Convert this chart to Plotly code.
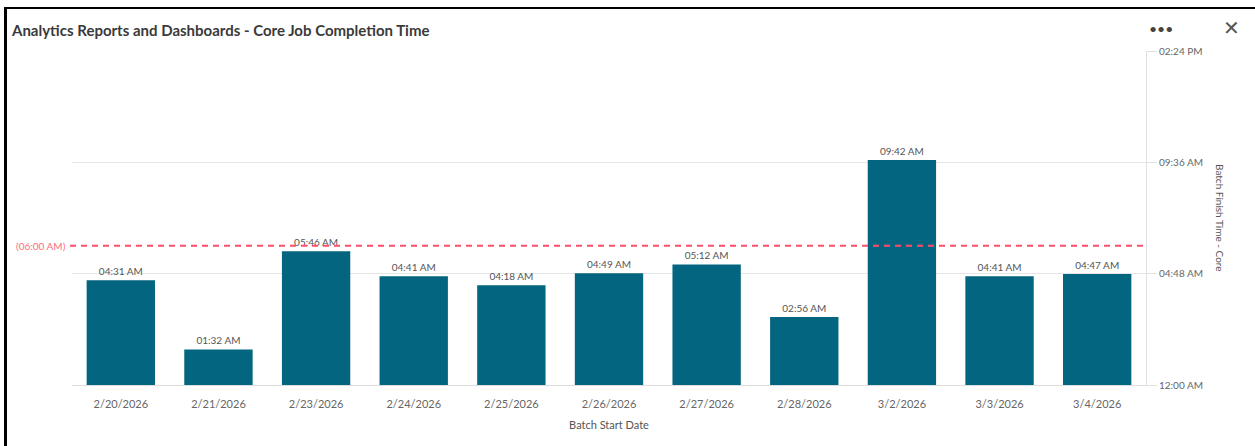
import plotly.graph_objects as go

# ---- data ----
dates = ["2/20/2026", "2/21/2026", "2/23/2026", "2/24/2026", "2/25/2026", "2/26/2026",
         "2/27/2026", "2/28/2026", "3/2/2026", "3/3/2026", "3/4/2026"]
finish_labels = ["04:31 AM", "01:32 AM", "05:46 AM", "04:41 AM", "04:18 AM", "04:49 AM",
                 "05:12 AM", "02:56 AM", "09:42 AM", "04:41 AM", "04:47 AM"]
# minutes after midnight
finish_minutes = [271, 92, 346, 281, 258, 289, 312, 176, 582, 281, 287]
target_minutes = 360
target_label = "(06:00 AM)"
y_tickvals = [0, 288, 576, 864]
y_ticktext = ["12:00 AM", "04:48 AM", "09:36 AM", "02:24 PM"]

title = "Analytics Reports and Dashboards - Core Job Completion Time"
x_title = "Batch Start Date"
y_title = "Batch Finish Time - Core"

# ---- layout geometry (pixels) ----
W, H = 1255, 446
L, R, T, B = 72, 1146, 51, 385
FONT = "Lato"


def px(x):
    return (x - L) / (R - L)


def py(y):
    return (B - y) / (B - T)


fig = go.Figure()
fig.add_trace(go.Bar(
    x=dates, y=finish_minutes, text=finish_labels, textposition="outside",
    textfont=dict(size=10, color="#555555", family=FONT),
    marker=dict(color="#03657f", line=dict(width=0)),
    width=0.7, cliponaxis=False, hoverinfo="x+text",
))

fig.update_layout(
    width=W, height=H,
    margin=dict(l=L, r=W - R, t=T, b=H - B, pad=0),
    paper_bgcolor="white", plot_bgcolor="white",
    showlegend=False,
    font=dict(family=FONT, color="#666666", size=11),
    xaxis=dict(
        type="category", showgrid=False, showline=True, linecolor="#dddddd", linewidth=1,
        ticks="", tickfont=dict(size=11, color="#666666"), zeroline=False,
        ticklabelstandoff=9,
        title=dict(text=x_title, font=dict(size=11, color="#555555"), standoff=12),
    ),
    yaxis=dict(
        side="right", range=[0, 864], tickvals=y_tickvals, ticktext=y_ticktext,
        showgrid=True, gridcolor="#e6e6e6", gridwidth=1, zeroline=False,
        showline=True, linecolor="#e0e0e0", linewidth=1,
        ticks="outside", ticklen=10, tickcolor="#e0e0e0",
        tickfont=dict(size=10, color="#666666"),
    ),
    bargap=0.3,
)

shapes = [
    # reference line
    dict(type="line", xref="paper", yref="y", x0=px(70), x1=1.0,
         y0=target_minutes, y1=target_minutes,
         line=dict(color="#ff4d6a", width=2, dash="6px,5px")),
    # black frame (left and top)
    dict(type="line", xref="paper", yref="paper", x0=px(5.5), x1=px(5.5), y0=py(7), y1=py(446),
         line=dict(color="black", width=3)),
    dict(type="line", xref="paper", yref="paper", x0=px(4), x1=px(1255), y0=py(8), y1=py(8),
         line=dict(color="black", width=2)),
]
fig.update_layout(shapes=shapes)

annotations = [
    dict(text=title, xref="paper", yref="paper", x=px(9), y=py(30), xanchor="left",
         yanchor="middle", showarrow=False,
         font=dict(family=FONT, size=15, color="#3a3a3a", weight="bold")),
    dict(text="•••", xref="paper", yref="paper", x=px(1161), y=py(28), xanchor="center",
         yanchor="middle", showarrow=False, font=dict(size=14, color="#444444")),
    dict(text="✕", xref="paper", yref="paper", x=px(1231), y=py(28), xanchor="center",
         yanchor="middle", showarrow=False, font=dict(size=20, color="#555555", family="DejaVu Sans")),
    dict(text=target_label, xref="paper", yref="y", x=px(68), y=target_minutes,
         xanchor="right", yanchor="middle", showarrow=False,
         font=dict(size=10, color="#ff6b7d", family=FONT)),
    dict(text=y_title, xref="paper", yref="paper", x=px(1220), y=py(218), textangle=90,
         xanchor="center", yanchor="middle", showarrow=False,
         font=dict(size=10, color="#555555", family=FONT)),
]
fig.update_layout(annotations=annotations)

fig.write_html("out.html", config={"displayModeBar": False},
               post_script="document.body.style.margin='0';window.dispatchEvent(new Event('resize'));")
